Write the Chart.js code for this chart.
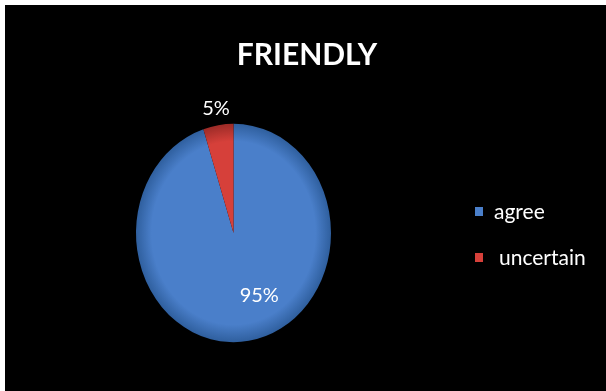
<!DOCTYPE html>
<html>
<head>
<meta charset="utf-8">
<script src="https://cdn.jsdelivr.net/npm/chart.js@4.4.0/dist/chart.umd.min.js"></script>
<style>
  html, body { margin: 0; padding: 0; background: #fff; }
  .frame { width: 601px; height: 386px; border-top: 5px solid #fff; border-left: 5px solid #fff; background: #000; }
  canvas { display: block; }
</style>
</head>
<body>
<div class="frame"><canvas id="friendlyChart" width="601" height="386"></canvas></div>
<script>
const categories = ['agree', 'uncertain'];
const percents = [95, 5];
const sliceColors = ['#4a7fca', '#d6403a'];
const edgeColors = ['#2f5f9e', '#9c2b27'];

// pie is drawn a little taller than wide
const stretchY = 1.12;

// radial shading, darker at the rim
function shade(ctx) {
  const area = ctx.chart.chartArea;
  if (!area) return sliceColors[ctx.dataIndex];
  const cx = (area.left + area.right) / 2;
  const cy = (area.top + area.bottom) / 2;
  const r = Math.min(area.right - area.left, area.bottom - area.top) / 2;
  const g = ctx.chart.ctx.createRadialGradient(cx, cy, 0, cx, cy, r);
  g.addColorStop(0, sliceColors[ctx.dataIndex]);
  g.addColorStop(0.84, sliceColors[ctx.dataIndex]);
  g.addColorStop(1, edgeColors[ctx.dataIndex]);
  return g;
}

const ellipse = {
  id: 'ellipse',
  beforeDatasetsDraw(chart) {
    const a = chart.chartArea;
    const cy = (a.top + a.bottom) / 2;
    chart.ctx.save();
    chart.ctx.translate(0, cy);
    chart.ctx.scale(1, stretchY);
    chart.ctx.translate(0, -cy);
  },
  afterDatasetsDraw(chart) {
    chart.ctx.restore();
  }
};

const decorations = {
  id: 'decorations',
  afterDraw(chart) {
    const ctx = chart.ctx;
    ctx.save();
    ctx.fillStyle = '#ffffff';
    ctx.textAlign = 'center';
    ctx.textBaseline = 'middle';

    // title
    ctx.font = 'bold 30px Lato';
    ctx.fillText('FRIENDLY', 302, 50);

    // percent labels
    ctx.font = '20px Lato';
    chart.getDatasetMeta(0).data.forEach((arc, i) => {
      const mid = (arc.startAngle + arc.endAngle) / 2;
      const f = i === 1 ? 1.15 : 0.64;
      const x = arc.x + Math.cos(mid) * arc.outerRadius * f + (i === 0 ? 16 : 0);
      const y = arc.y + Math.sin(mid) * arc.outerRadius * f * stretchY - (i === 0 ? 6 : 0);
      ctx.fillText(percents[i] + '%', x, y);
    });

    // legend
    ctx.textAlign = 'left';
    ctx.font = '21px Lato';
    categories.forEach((name, i) => {
      const y = 207 + i * 46;
      ctx.fillStyle = sliceColors[i];
      ctx.fillRect(470, y - 5, 8, 9);
      ctx.fillStyle = '#ffffff';
      ctx.fillText(name, 489 + i * 5, y);
    });
    ctx.restore();
  }
};

new Chart(document.getElementById('friendlyChart'), {
  type: 'pie',
  data: {
    labels: categories,
    datasets: [{
      data: percents,
      backgroundColor: shade,
      borderWidth: 0
    }]
  },
  options: {
    responsive: false,
    animation: false,
    layout: { padding: { left: 131, right: 275, top: 130, bottom: 60 } },
    plugins: {
      legend: { display: false },
      tooltip: { enabled: false }
    }
  },
  plugins: [ellipse, decorations]
});
</script>
</body>
</html>
